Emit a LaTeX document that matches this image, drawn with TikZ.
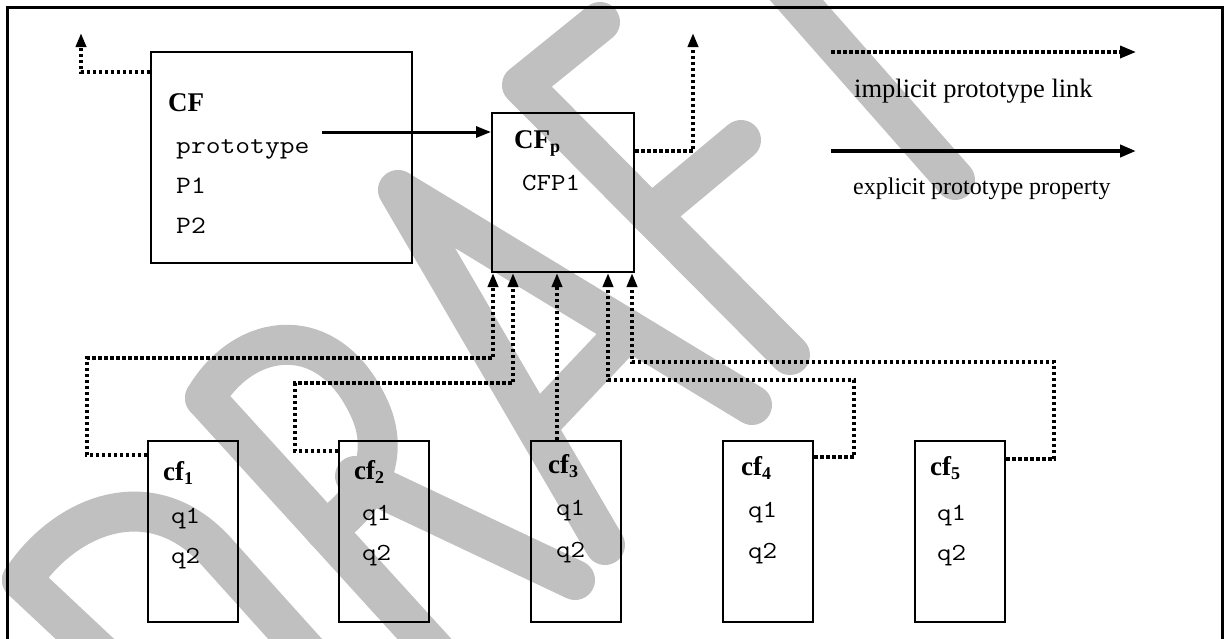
\documentclass[tikz,border=0pt]{standalone}
\usepackage{fontspec}
\setmainfont{Liberation Serif}
\newfontfamily\courfont{Latin Modern Mono}[FakeStretch=1.15]
\usetikzlibrary{arrows.meta,calc}
\definecolor{wmgray}{HTML}{C0C0C0}
\newcommand\lblbf{\fontsize{27}{30}\selectfont\bfseries}
\newcommand\lowsub[1]{\raisebox{-4pt}{\fontsize{18}{18}\selectfont #1}}
\begin{document}
\begin{tikzpicture}[x=1pt,y=-1pt,
  wm/.style={line width=40pt,draw=wmgray,line cap=round,line join=round},
  box/.style={draw,line width=2pt,inner sep=0pt},
  lbl/.style={anchor=base west,inner sep=0pt},
  serif/.style={lbl,font=\fontsize{#1}{#1}\selectfont},
  mono/.style={lbl,font=\fontsize{#1}{#1}\selectfont\courfont},
  impl/.style={line width=3.5pt,dash pattern=on 3.5pt off 2.5pt,
    -{Triangle[length=14pt,width=10pt]}},
  expl/.style={line width=3pt,-{Triangle[length=15pt,width=11pt]}},
  implleg/.style={line width=3.5pt,dash pattern=on 3.5pt off 2.5pt,
    -{Triangle[length=16pt,width=12pt]}},
  explleg/.style={line width=4pt,-{Triangle[length=16pt,width=12pt]}}]
\useasboundingbox (0,0) rectangle (1229,638);
% watermark and frame
\begin{scope}
\clip (0,0) rectangle (1229,638);
\draw[wm] (22,580) -- (150,700);
\draw[wm] (22,580) .. controls (65,515) and (150,480) .. (215,550) -- (350,700);
\draw[wm] (205,398) -- (480,700);
\draw[wm] (205,398) .. controls (245,330) and (330,320) .. (370,410)
  .. controls (390,455) and (370,500) .. (325,530);
\draw[wm] (355,476) -- (575,580);
\draw[wm] (605,545) -- (398,190) -- (752,405);
\draw[wm] (538,425) -- (628,330);
\draw[wm] (600,22) -- (522,85) -- (790,355);
\draw[wm] (651,215) -- (741,140);
\draw[wm] (770,-30) -- (955,180);
\draw[line width=3pt] (7,700) -- (7,7) -- (1222,7) -- (1222,700);
\end{scope}
% boxes
\node[box,minimum width=261pt,minimum height=211pt] (CF) at (281.5,157.5) {};
\node[box,minimum width=142pt,minimum height=159pt] (CFp) at (563,192.5) {};
\foreach \i/\x in {1/193,2/384,3/576,4/768,5/960}
  \node[box,minimum width=90pt,minimum height=181pt] (cf\i) at (\x,531.5) {};
% texts
\node[lbl,font=\lblbf] (tCF) at (168,111) {CF};
\node[mono=25] (tproto) at (176,153) {prototype};
\node[mono=25] (tP1) at (176,193) {P1};
\node[mono=25] (tP2) at (176,233) {P2};
\node[lbl,font=\lblbf] (tCFp) at (514,148) {CF\lowsub{p}};
\node[mono=24.5] (tCFP1) at (522,190) {CFP1};
\node[serif=26.5] (tleg1) at (854,97) {implicit prototype link};
\node[serif=24] (tleg2) at (853,194) {explicit prototype property};
\node[lbl,font=\lblbf] (tc1) at (163,480) {cf\lowsub{1}};
\node[mono=24.5] (tc1a) at (171,523) {q1};
\node[mono=24.5] (tc1b) at (171,563) {q2};
\node[lbl,font=\lblbf] (tc2) at (354,479) {cf\lowsub{2}};
\node[mono=24.5] (tc2a) at (362,520) {q1};
\node[mono=24.5] (tc2b) at (362,560) {q2};
\node[lbl,font=\lblbf] (tc3) at (548,473) {cf\lowsub{3}};
\node[mono=24.5] (tc3a) at (556,515) {q1};
\node[mono=24.5] (tc3b) at (556,557) {q2};
\node[lbl,font=\lblbf] (tc4) at (741,475) {cf\lowsub{4}};
\node[mono=24.5] (tc4a) at (748,517) {q1};
\node[mono=24.5] (tc4b) at (748,558) {q2};
\node[lbl,font=\lblbf] (tc5) at (930,475) {cf\lowsub{5}};
\node[mono=24.5] (tc5a) at (937,520) {q1};
\node[mono=24.5] (tc5b) at (937,560) {q2};
% coordinates
\coordinate (tipA) at (81,33);
\coordinate (tipB) at (693,33);
\coordinate (ps) at (322,132);
\coordinate (in1) at ($(CFp.south west)+(2,0)$);
\coordinate (in2) at ($(CFp.south west)+(22,0)$);
\coordinate (in3) at ($(CFp.south west)+(66,0)$);
\coordinate (in4) at ($(CFp.south west)+(117,0)$);
\coordinate (in5) at ($(CFp.south west)+(141,0)$);
\coordinate (w1) at (87,358);
\coordinate (w2) at (295,383);
\coordinate (w4) at (854,380);
\coordinate (w5) at (1054,362);
% connectors
\draw[impl] ($(CF.north west)+(0,21)$) -| (tipA);
\draw[impl] ($(CFp.north east)+(0,39)$) -| (tipB);
\draw[expl] (ps) -- (ps -| CFp.west);
\draw[impl] ($(cf1.north west)+(0,15)$) -| (w1) -| (in1);
\draw[impl] ($(cf2.north west)+(0,11)$) -| (w2) -| (in2);
\draw[impl] (in3 |- cf3.north) -- (in3);
\draw[impl] ($(cf4.north east)+(0,17)$) -| (w4) -| (in4);
\draw[impl] ($(cf5.north east)+(0,19)$) -| (w5) -| (in5);
% legend
\coordinate (l1s) at (831,52);
\coordinate (l1e) at (1136,52);
\coordinate (l2s) at (831,151);
\coordinate (l2e) at (1136,151);
\draw[implleg] (l1s) -- (l1e);
\draw[explleg] (l2s) -- (l2e);
\end{tikzpicture}
\end{document}
